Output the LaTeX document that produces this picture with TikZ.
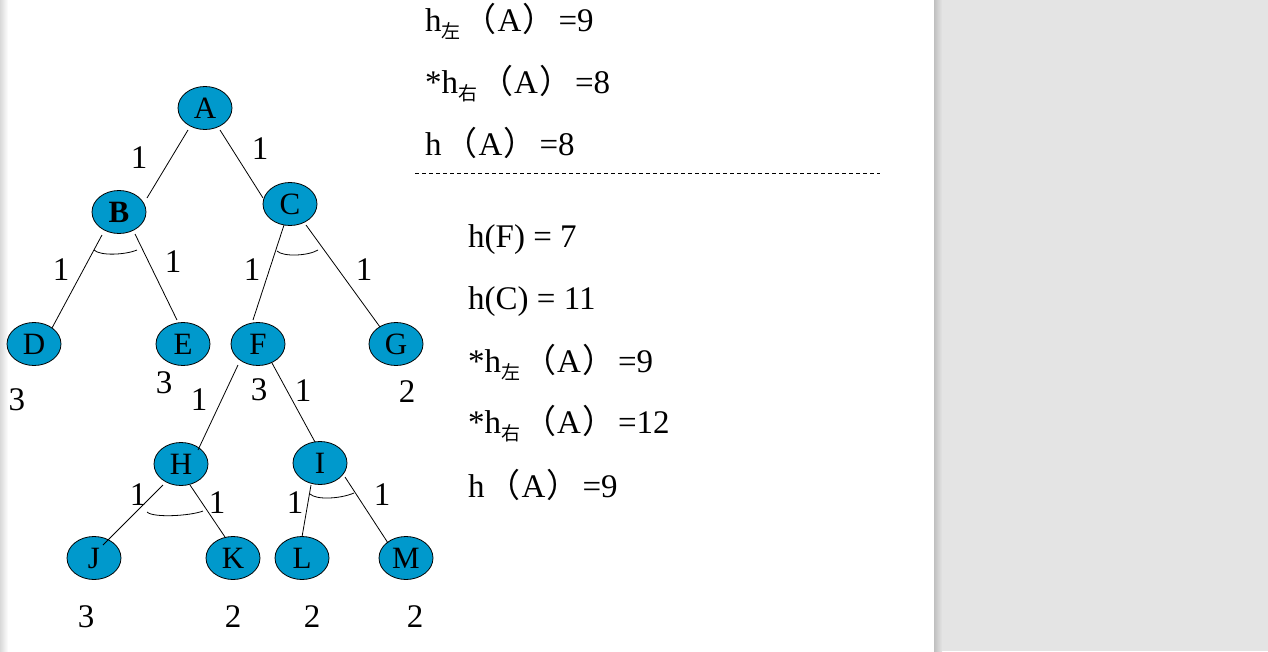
\documentclass[tikz,border=0pt]{standalone}
\usepackage{fontspec}
\setmainfont{Liberation Serif}
\newfontfamily\cjk{Noto Sans CJK SC}
\usetikzlibrary{shapes.geometric,calc}
\definecolor{nodeblue}{RGB}{0,153,204}
\definecolor{pagegray}{RGB}{228,228,228}
\newcommand{\subL}{\raisebox{-7pt}{\cjk\fontsize{19}{19}\selectfont 左}}
\newcommand{\subR}{\raisebox{-7pt}{\cjk\fontsize{19}{19}\selectfont 右}}
\newcommand{\lp}{\hspace{3pt}{\cjk （}\hspace{1pt}}
\newcommand{\rp}{\hspace{1pt}{\cjk ）}\hspace{3pt}}
\begin{document}
\begin{tikzpicture}[x=1pt,y=-1pt,
  tnode/.style={ellipse,draw=black,line width=0.8pt,fill=nodeblue,minimum width=54pt,minimum height=43pt,inner sep=0pt,font=\fontsize{31}{31}\selectfont},
  edge/.style={line width=0.8pt},
  wlab/.style={font=\fontsize{33}{33}\selectfont,inner sep=0pt},
  rtext/.style={anchor=base west,inner sep=0pt,font=\fontsize{33}{33}\selectfont},
  andarc/.style={line width=0.8pt}]
\useasboundingbox (0,0) rectangle (1268,651);
\fill[white] (0,0) rectangle (1268,651);
\fill[pagegray] (934,0) rectangle (1268,651);
\shade[left color=black!25,right color=pagegray] (934,0) rectangle (942,651);
\shade[left color=black!15,right color=white] (0,0) rectangle (8,651);

% nodes
\node[tnode] (A) at (205,108) {A};
\node[tnode] (B) at (119,212) {\textbf{B}};
\node[tnode] (C) at (290,204) {C};
\node[tnode] (D) at (34,344) {D};
\node[tnode] (E) at (183,344) {E};
\node[tnode] (F) at (258,344) {F};
\node[tnode] (G) at (396,344) {G};
\node[tnode] (H) at (181,464) {H};
\node[tnode] (I) at (320,463) {I};
\node[tnode] (J) at (94,558) {J};
\node[tnode] (K) at (233,558) {K};
\node[tnode] (L) at (302,558) {L};
\node[tnode] (M) at (406,558) {M};

% edges (border point to border point)
\draw[edge] ($(A)+(-17,22)$) -- ($(B)+(28,-14)$);
\draw[edge] ($(A)+(15,22)$) -- ($(C)+(-27,-6)$);
\draw[edge] ($(B)+(-17,23)$) -- ($(D)+(18,-16)$);
\draw[edge] ($(B)+(16,22)$) -- ($(E)+(-6,-24)$);
\draw[edge] ($(C)+(-6,21)$) -- ($(F)+(-5,-24)$);
\draw[edge] ($(C)+(16,21)$) -- ($(G)+(-16,-17)$);
\draw[edge] ($(F)+(-20,21)$) -- ($(H)+(17,-14)$);
\draw[edge] ($(F)+(14,19)$) -- ($(I)+(-5,-21)$);
\draw[edge] ($(H)+(-18,21)$) -- ($(J)+(9,-13)$);
\draw[edge] ($(H)+(9,21)$) -- ($(K)+(-8,-21)$);
\draw[edge] ($(I)+(-9,22)$) -- ($(L)+(0,-21)$);
\draw[edge] ($(I)+(25,14)$) -- ($(M)+(-18,-15)$);

% and-arcs
\draw[andarc] ($(B)+(-25,38)$) .. controls ($(B)+(-19,44)$) and ($(B)+(6,43)$) .. ($(B)+(18,38)$);
\draw[andarc] ($(C)+(-13,47)$) .. controls ($(C)+(-7,53)$) and ($(C)+(18,52)$) .. ($(C)+(28,46)$);
\draw[andarc] ($(H)+(-34,48)$) .. controls ($(H)+(-28,54)$) and ($(H)+(9,52)$) .. ($(H)+(22,47)$);
\draw[andarc] ($(I)+(-10,31)$) .. controls ($(I)+(-4,37)$) and ($(I)+(20,36)$) .. ($(I)+(34,30)$);

% edge weights
\node[wlab] (wAB) at (139,158) {1};
\node[wlab] (wAC) at (260,149) {1};
\node[wlab] (wBD) at (61,270) {1};
\node[wlab] (wBE) at (173,262) {1};
\node[wlab] (wCF) at (252,270) {1};
\node[wlab] (wCG) at (364,270) {1};
\node[wlab] (wFH) at (199,400) {1};
\node[wlab] (wFI) at (303,391) {1};
\node[wlab] (wHJ) at (138,495) {1};
\node[wlab] (wHK) at (217,503) {1};
\node[wlab] (wIL) at (295,503) {1};
\node[wlab] (wIM) at (382,495) {1};

% heuristic values
\node[wlab] (hD) at (17,400) {3};
\node[wlab] (hE) at (164,383) {3};
\node[wlab] (hF) at (259,390) {3};
\node[wlab] (hG) at (407,392) {2};
\node[wlab] (hJ) at (86,617) {3};
\node[wlab] (hK) at (233,617) {2};
\node[wlab] (hL) at (312,617) {2};
\node[wlab] (hM) at (415,617) {2};

% right texts
\node[rtext] (t1) at (425,31) {h\subL\lp A\rp =9};
\node[rtext] (t2) at (425,93) {*h\subR\lp A\rp =8};
\node[rtext] (t3) at (425,155) {h\lp A\rp =8};
\draw[line width=0.6pt,dash pattern=on 4pt off 3pt] (415,173) -- (880,173);
\node[rtext] (t4) at (468,247) {h(F) = 7};
\node[rtext] (t5) at (468,309) {h(C) = 11};
\node[rtext] (t6) at (468,372) {*h\subL\lp A\rp =9};
\node[rtext] (t7) at (468,433) {*h\subR\lp A\rp =12};
\node[rtext] (t8) at (468,497) {h\lp A\rp =9};
\end{tikzpicture}
\end{document}
